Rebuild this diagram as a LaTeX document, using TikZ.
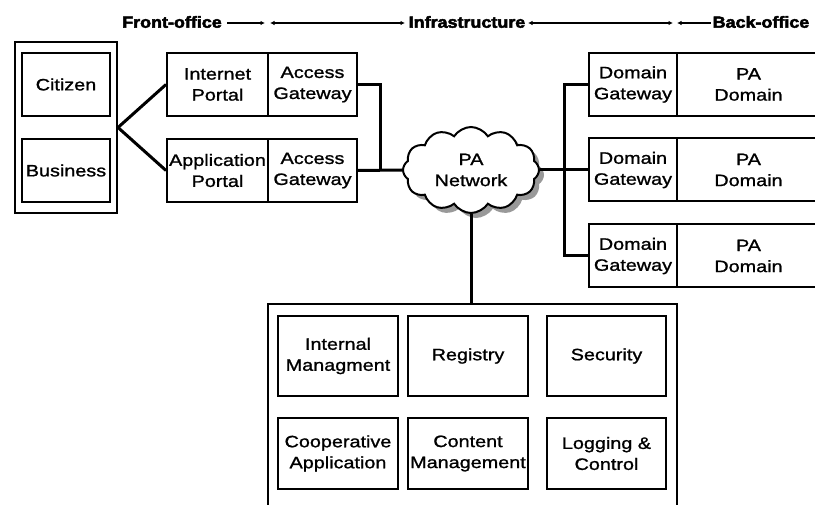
\documentclass[tikz,border=0pt]{standalone}
\usepackage{fontspec}
\setmainfont{Liberation Sans}[FakeStretch=1.2, FakeBold=1.2]
\newfontfamily\hdrfont{Liberation Sans}[UprightFont={* Bold}, FakeStretch=1.12, FakeBold=3]
\usetikzlibrary{shapes.symbols,shadows,arrows.meta}
\begin{document}
\begin{tikzpicture}[x=1pt,y=-1pt,
  box/.style={draw, line width=2pt, rectangle, align=center, inner sep=0pt,
    font=\fontsize{16.5}{21}\selectfont},
  conn/.style={line width=3pt},
  hdr/.style={font=\hdrfont\fontsize{16}{18}\selectfont, inner sep=0pt},
  harrow/.style={line width=2pt, arrows={-}, >={Latex[length=4.5pt,width=4.5pt]}},
  svc/.style={box, minimum width=120pt}
]
\clip (0,0) rectangle (815,505);
\fill[white] (0,0) rectangle (815,505);

% header
\node[hdr] (fo) at (172,22) {Front-office};
\node[hdr] (inf) at (467,22) {Infrastructure};
\node[hdr] (bo) at (761,22) {Back-office};
\coordinate (a1) at (227,23);
\coordinate (a2) at (265,23);
\coordinate (a3) at (270,23);
\coordinate (a4) at (405,23);
\coordinate (a5) at (528,23);
\coordinate (a6) at (673,23);
\coordinate (a7) at (677,23);
\coordinate (a8) at (711,23);
\draw[harrow,->] (a1) -- (a2);
\draw[harrow,<->] (a3) -- (a4);
\draw[harrow,<->] (a5) -- (a6);
\draw[harrow,<-] (a7) -- (a8);

% users
\node[box, minimum width=102pt, minimum height=171pt] (outer) at (66,127.5) {};
\node[box, minimum width=88pt, minimum height=63pt] (citizen) at (66,84.5) {Citizen};
\node[box, minimum width=88pt, minimum height=63pt] (business) at (66,170.5) {Business};

% portals
\node[box, minimum width=101pt, minimum height=63pt] (ip) at (217.5,84.5) {Internet\\Portal};
\node[box, minimum width=89pt, minimum height=63pt] (ag1) at (312.5,84.5) {Access\\Gateway};
\node[box, minimum width=101pt, minimum height=63pt] (ap) at (217.5,170.5) {Application\\Portal};
\node[box, minimum width=89pt, minimum height=63pt] (ag2) at (312.5,170.5) {Access\\Gateway};

% cloud
\node[cloud, draw, line width=2pt, fill=white, cloud puffs=12, cloud puff arc=115,
  aspect=1.6, minimum width=136pt, minimum height=86pt, inner sep=0pt,
  align=center, font=\fontsize{16.5}{21}\selectfont,
  copy shadow={shadow xshift=5pt, shadow yshift=-5pt, draw=none, fill=black!40}]
  (net) at (471,170) {PA\\Network};

% domains
\node[box, minimum width=88pt, minimum height=63pt] (dg1) at (633,84.5) {Domain\\Gateway};
\node[box, minimum width=143pt, minimum height=63pt] (pd1) at (748.5,84.5) {PA\\Domain};
\node[box, minimum width=88pt, minimum height=63pt] (dg2) at (633,170) {Domain\\Gateway};
\node[box, minimum width=143pt, minimum height=63pt] (pd2) at (748.5,170) {PA\\Domain};
\node[box, minimum width=88pt, minimum height=63pt] (dg3) at (633,256) {Domain\\Gateway};
\node[box, minimum width=143pt, minimum height=63pt] (pd3) at (748.5,256) {PA\\Domain};

% services
\node[box, minimum width=409pt, minimum height=216pt] (infra) at (472.5,412) {};
\node[svc, minimum height=80pt] (im) at (338,356) {Internal\\Managment};
\node[svc, minimum height=80pt] (reg) at (468,356) {Registry};
\node[svc, minimum width=119pt, minimum height=80pt] (sec) at (606.5,356) {Security};
\node[svc, minimum height=71pt] (coop) at (338,453.5) {Cooperative\\Application};
\node[svc, minimum height=71pt] (cm) at (468,453.5) {Content\\Management};
\node[svc, minimum width=119pt, minimum height=71pt] (log) at (606.5,453.5) {Logging \&\\Control};

% connectors
\draw[conn] (outer.east) -- (ip.west);
\draw[conn] (outer.east) -- (ap.west);
\coordinate (jl) at (380,170.5);
\draw[conn] (ag1.east) -| (jl);
\draw[conn] (ag2.east) -- (net.west);
\coordinate (jr) at (564,170);
\draw[conn] (net.east) -- (jr);
\draw[conn] (dg1.west) -| (jr);
\draw[conn] (dg3.west) -| (jr);
\draw[conn] (jr) -- (dg2.west);
\draw[conn] (net.south) -- (net.south |- infra.north);
\end{tikzpicture}
\end{document}
